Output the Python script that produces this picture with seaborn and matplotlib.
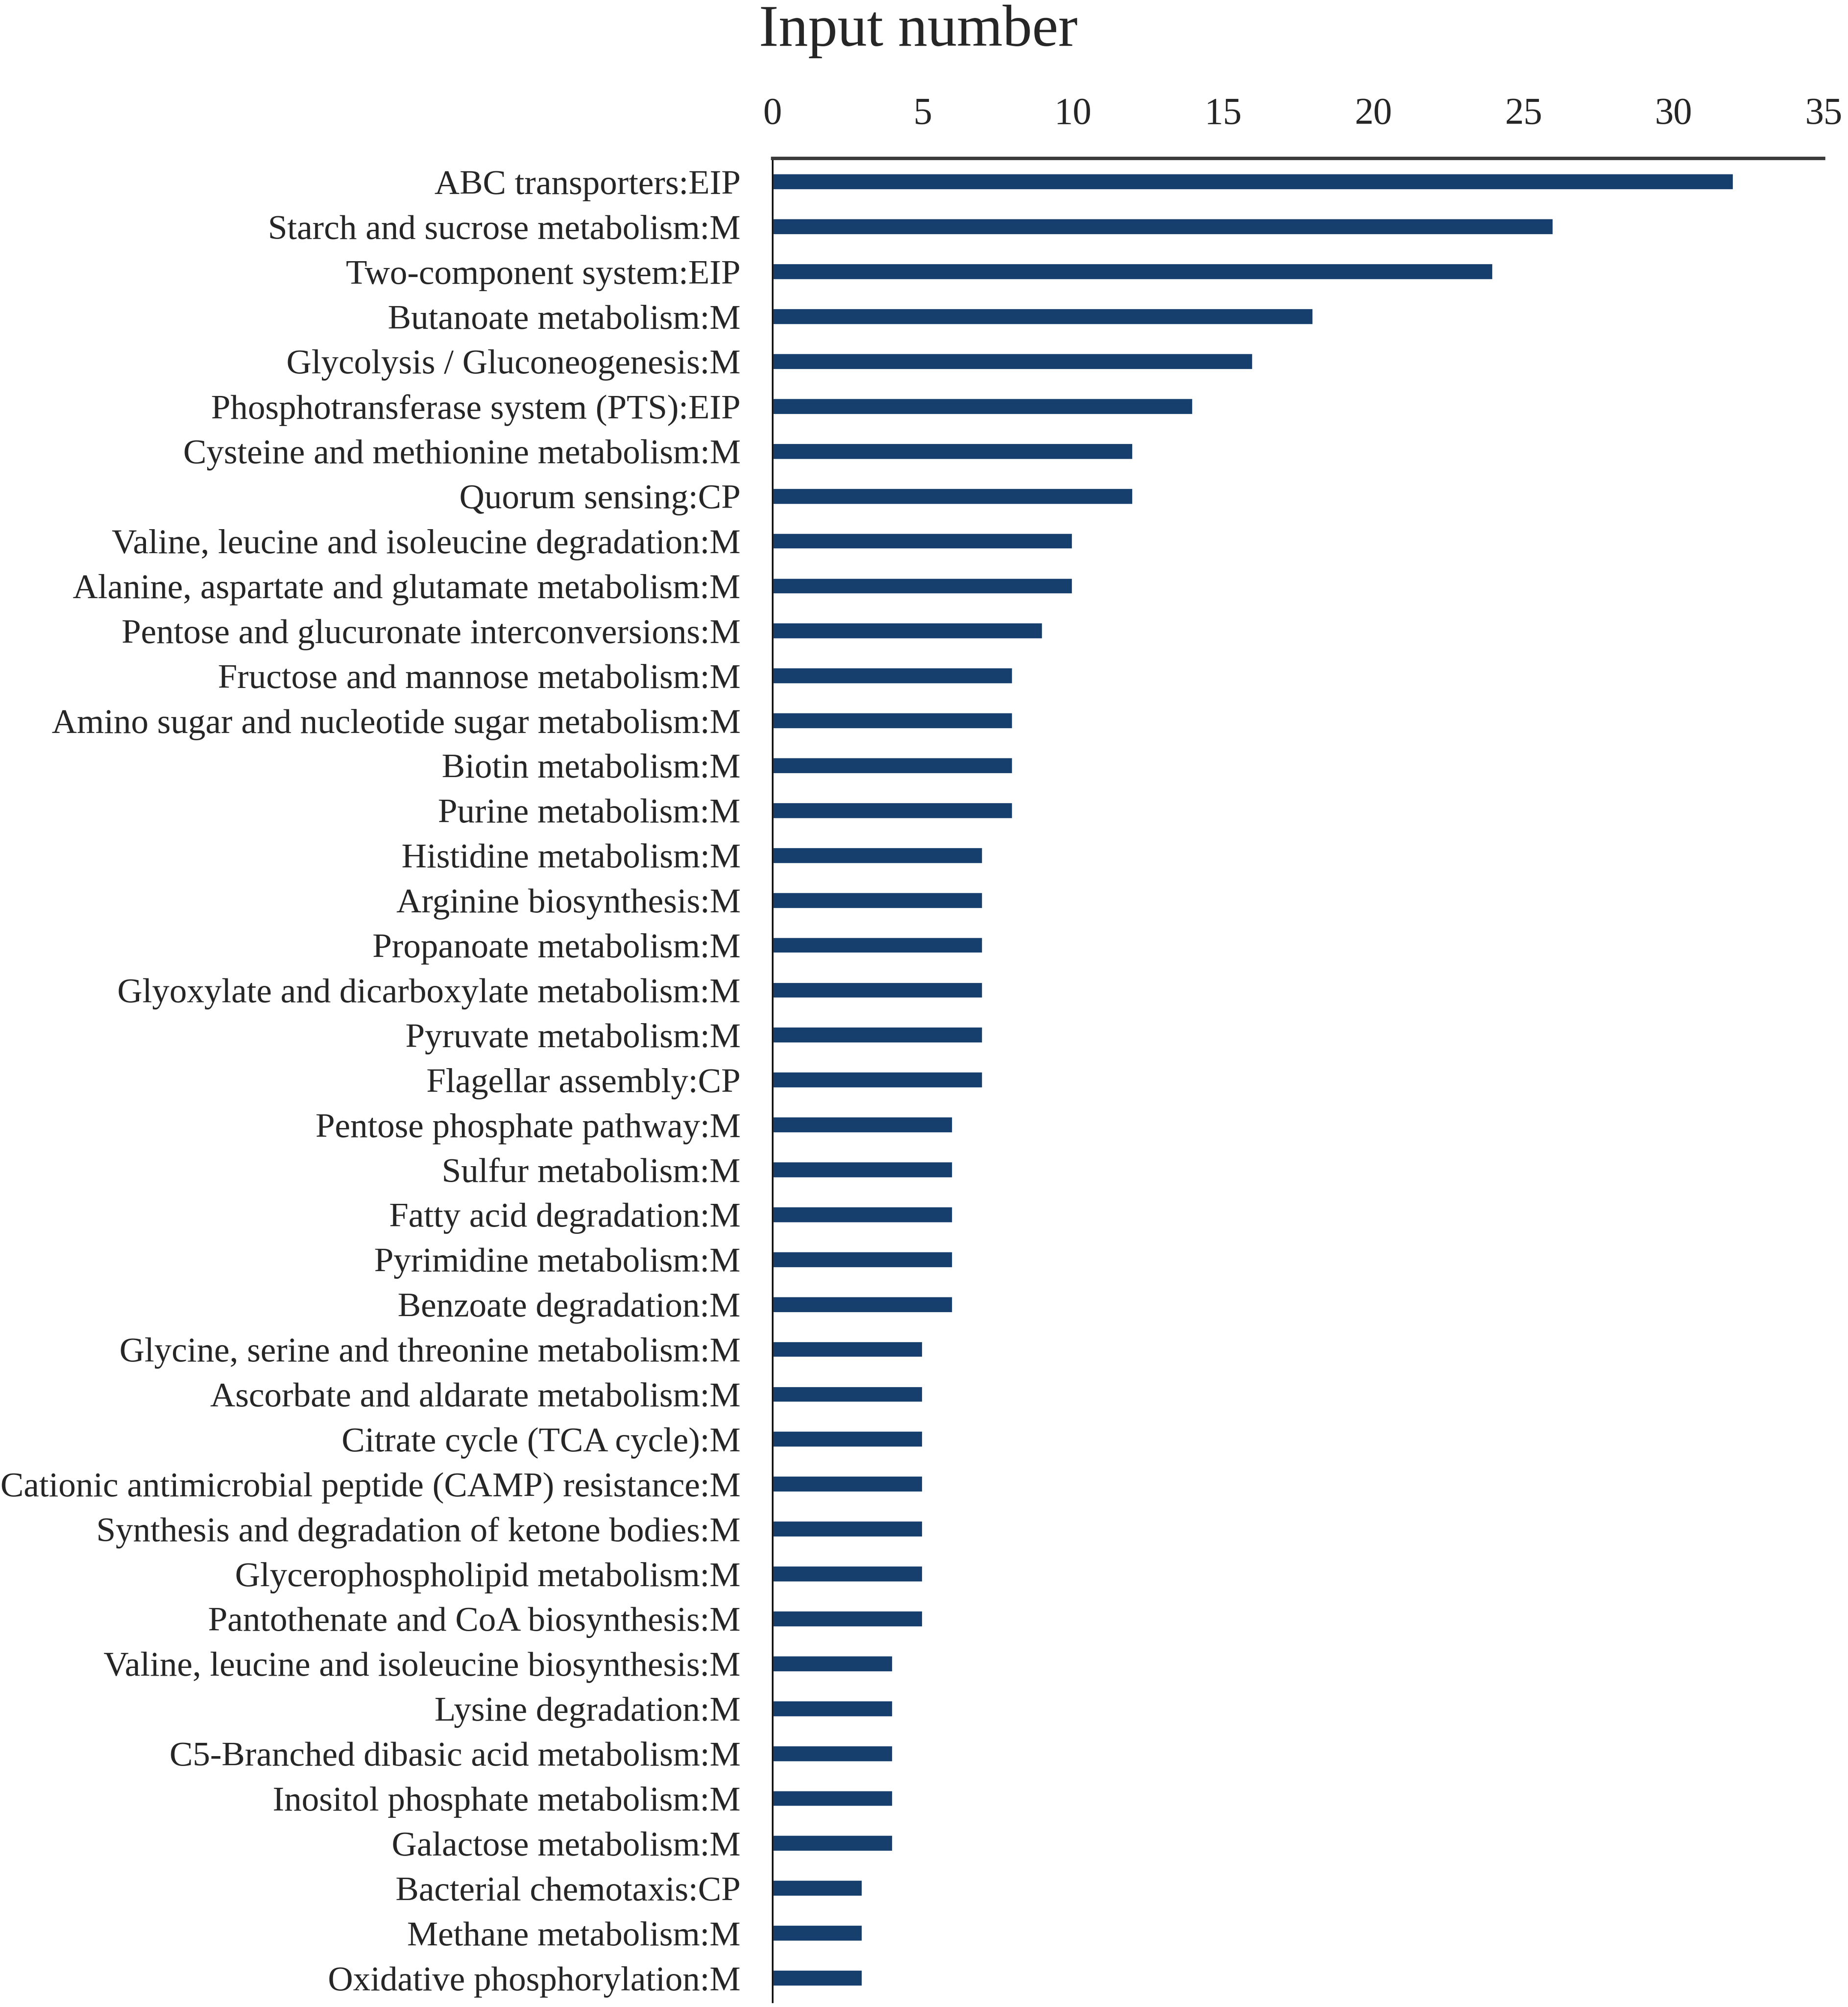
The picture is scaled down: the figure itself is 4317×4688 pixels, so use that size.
import numpy as np
import pandas as pd
import seaborn as sns
import matplotlib.pyplot as plt

# pathway names and gene counts
pathways = [
    "ABC transporters:EIP",
    "Starch and sucrose metabolism:M",
    "Two-component system:EIP",
    "Butanoate metabolism:M",
    "Glycolysis / Gluconeogenesis:M",
    "Phosphotransferase system (PTS):EIP",
    "Cysteine and methionine metabolism:M",
    "Quorum sensing:CP",
    "Valine, leucine and isoleucine degradation:M",
    "Alanine, aspartate and glutamate metabolism:M",
    "Pentose and glucuronate interconversions:M",
    "Fructose and mannose metabolism:M",
    "Amino sugar and nucleotide sugar metabolism:M",
    "Biotin metabolism:M",
    "Purine metabolism:M",
    "Histidine metabolism:M",
    "Arginine biosynthesis:M",
    "Propanoate metabolism:M",
    "Glyoxylate and dicarboxylate metabolism:M",
    "Pyruvate metabolism:M",
    "Flagellar assembly:CP",
    "Pentose phosphate pathway:M",
    "Sulfur metabolism:M",
    "Fatty acid degradation:M",
    "Pyrimidine metabolism:M",
    "Benzoate degradation:M",
    "Glycine, serine and threonine metabolism:M",
    "Ascorbate and aldarate metabolism:M",
    "Citrate cycle (TCA cycle):M",
    "Cationic antimicrobial peptide (CAMP) resistance:M",
    "Synthesis and degradation of ketone bodies:M",
    "Glycerophospholipid metabolism:M",
    "Pantothenate and CoA biosynthesis:M",
    "Valine, leucine and isoleucine biosynthesis:M",
    "Lysine degradation:M",
    "C5-Branched dibasic acid metabolism:M",
    "Inositol phosphate metabolism:M",
    "Galactose metabolism:M",
    "Bacterial chemotaxis:CP",
    "Methane metabolism:M",
    "Oxidative phosphorylation:M",
]
counts = [32, 26, 24, 18, 16, 14, 12, 12, 10, 10, 9, 8, 8, 8, 8,
          7, 7, 7, 7, 7, 7, 6, 6, 6, 6, 6, 5, 5, 5, 5, 5, 5, 5,
          4, 4, 4, 4, 4, 3, 3, 3]
xticks = [0, 5, 10, 15, 20, 25, 30, 35]

df = pd.DataFrame({"pathway": pathways, "count": counts})

sns.set_style("white")
plt.rcParams["font.family"] = ["Liberation Serif", "DejaVu Serif"]

fig = plt.figure(figsize=(4317 / 300, 4688 / 300), dpi=300)
ax = fig.add_axes([0.4181, 0.0023, 0.9868 - 0.4181, 0.921 - 0.0023])

sns.barplot(data=df, x="count", y="pathway", orient="h",
            color="#163f6e", width=0.37, saturation=1, ax=ax)

ax.set_xlim(0, 35)
ax.set_ylim(len(pathways) - 1 + 0.54, -0.52)
ax.xaxis.tick_top()
ax.set_xticks(xticks)
ax.set_xlabel("")
ax.set_ylabel("")
ax.tick_params(axis="x", length=0, pad=15, labelsize=21)
ax.tick_params(axis="y", length=0, pad=18, labelsize=19.5)

for side in ["right", "bottom"]:
    ax.spines[side].set_visible(False)
ax.spines["top"].set_linewidth(1.9)
ax.spines["top"].set_color("#3a3a3a")
ax.spines["left"].set_linewidth(0.9)
ax.spines["left"].set_color("black")

fig.text(0.497, 1 - 74 / 4688, "Input number", ha="center", va="center",
         fontsize=33)

fig.savefig("out.png", dpi=300)
